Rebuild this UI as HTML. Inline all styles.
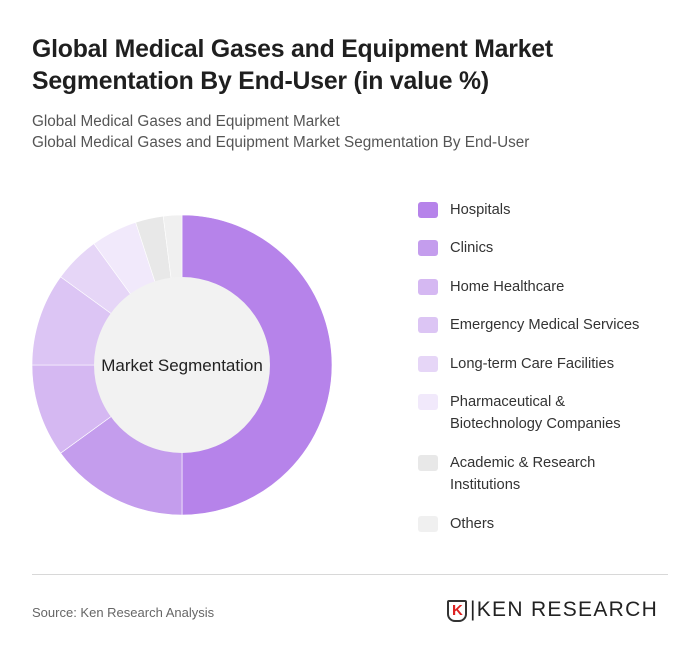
<!DOCTYPE html>
<html><head><meta charset="utf-8"><style>
body{margin:0;width:700px;height:659px;background:#fff;font-family:"Liberation Sans",sans-serif;position:relative;overflow:hidden}
.t{position:absolute;left:32px;top:34px;font-size:24.8px;font-weight:bold;color:#1f1f1f;line-height:32px;letter-spacing:-0.2px}
.s{position:absolute;left:32px;font-size:15.3px;color:#555}
.leg{position:absolute;left:418px;font-size:14.7px;color:#333;line-height:22px}
.sw{position:absolute;left:0;top:3px;width:20px;height:16px;border-radius:3px}
.lt{position:absolute;left:32px;white-space:nowrap}
</style></head><body>
<div class="t">Global Medical Gases and Equipment Market<br>Segmentation By End-User (in value %)</div>
<div class="s" style="top:113px">Global Medical Gases and Equipment Market</div>
<div class="s" style="top:134px">Global Medical Gases and Equipment Market Segmentation By End-User</div>
<svg id="ch" width="700" height="659" style="position:absolute;left:0;top:0"></svg>
<div id="legend"></div>
<div style="position:absolute;left:32px;top:574px;width:636px;height:1px;background:#d8d8d8"></div>
<div class="s" style="top:605px;font-size:13px;color:#666">Source: Ken Research Analysis</div>
<div style="position:absolute;left:447px;top:600px;width:20px;height:22px;border:2px solid #333;border-radius:2px 2px 8px 8px;box-sizing:border-box"><span style="position:absolute;left:3px;top:0;font-weight:bold;font-size:15px;color:#d22">K</span></div>
<div style="position:absolute;left:470px;top:598px;font-size:21px;color:#222;letter-spacing:1.3px">|KEN RESEARCH</div>
<script>
const categories=["Hospitals","Clinics","Home Healthcare","Emergency Medical Services","Long-term Care Facilities","Pharmaceutical & Biotechnology Companies","Academic & Research Institutions","Others"];
const values=[50,15,10,10,5,5,3,2];
const colors=["#b683ea","#c49ded","#d5b8f2","#dcc5f4","#e6d6f7","#f1e9fb","#e8e8e8","#f0f0f0"];
const labels=[["Hospitals"],["Clinics"],["Home Healthcare"],["Emergency Medical Services"],["Long-term Care Facilities"],["Pharmaceutical &","Biotechnology Companies"],["Academic & Research","Institutions"],["Others"]];
const legTops=[199,237,276,314,353,391,452,513];
const svg=document.getElementById('ch');const NS="http://www.w3.org/2000/svg";
const cx=182,cy=365,R=150,r=88;
const total=values.reduce((a,b)=>a+b,0);
let a0=0;
function pt(a,rad){return [cx+rad*Math.sin(a),cy-rad*Math.cos(a)];}
values.forEach((v,i)=>{
 const a1=a0+v/total*2*Math.PI;
 const [x0,y0]=pt(a0,R),[x1,y1]=pt(a1,R);
 const lg=(a1-a0)>Math.PI?1:0;
 const p=document.createElementNS(NS,'path');
 p.setAttribute('d',`M${cx},${cy}L${x0},${y0}A${R},${R} 0 ${lg} 1 ${x1},${y1}Z`);
 p.setAttribute('fill',colors[i]);p.setAttribute('stroke','#fff');p.setAttribute('stroke-width','0.6');
 
 
 svg.appendChild(p);a0=a1;
});
const c=document.createElementNS(NS,'circle');c.setAttribute('cx',cx);c.setAttribute('cy',cy);c.setAttribute('r',r);c.setAttribute('fill','#f2f2f2');


svg.appendChild(c);
const t=document.createElementNS(NS,'text');t.setAttribute('x',cx);t.setAttribute('y',cy+6);t.setAttribute('text-anchor','middle');t.setAttribute('font-size','17');t.setAttribute('fill','#222');t.setAttribute('font-family','Liberation Sans, sans-serif');t.textContent='Market Segmentation';


svg.appendChild(t);
const lg=document.getElementById('legend');
categories.forEach((n,i)=>{
 const d=document.createElement('div');d.className='leg';d.style.top=legTops[i]+'px';
 
 
 d.innerHTML=`<div class="sw" style="background:${colors[i]}"></div><div class="lt">${labels[i].join('<br>').replace(/&(?!lt|gt)/g,'&amp;')}</div>`;
 lg.appendChild(d);
});
</script>
</body></html>
